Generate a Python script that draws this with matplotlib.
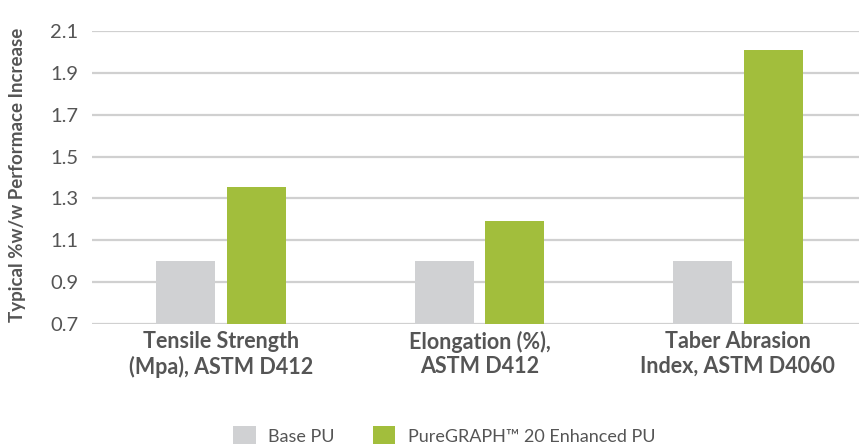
import matplotlib
matplotlib.use("Agg")
import matplotlib.pyplot as plt
import numpy as np

categories = ["Tensile Strength\n(Mpa), ASTM D412", "Elongation (%),\nASTM D412", "Taber Abrasion\nIndex, ASTM D4060"]
base_pu = [1.0, 1.0, 1.0]
enhanced_pu = [1.355, 1.19, 2.01]
series_names = ["Base PU", "PureGRAPH™ 20 Enhanced PU"]
yticks = [0.7, 0.9, 1.1, 1.3, 1.5, 1.7, 1.9, 2.1]

plt.rcParams['font.family'] = ['Lato', 'DejaVu Sans']
text_color = "#555555"
grey = "#d0d1d3"
green = "#a2be3c"

fig = plt.figure(figsize=(8.59, 4.44), dpi=100)
ax = fig.add_axes([92/859, 1-324/444, 775/859, (324-31)/444])

x = np.arange(len(categories))
w = 0.228
off = 0.137
ax.bar(x - off, base_pu, w, color=grey, label=series_names[0], zorder=3)
ax.bar(x + off, enhanced_pu, w, color=green, label=series_names[1], zorder=3)

ax.set_ylim(0.7, 2.1)
ax.set_xlim(-0.5, 2.5)
ax.set_yticks(yticks)
ax.set_yticklabels([f"{v:.1f}" for v in yticks], fontsize=14.5, color=text_color)
ax.set_xticks(x)
ax.set_xticklabels(categories, fontsize=15.5, fontweight='bold', color=text_color, linespacing=1.2)
ax.tick_params(axis='both', length=0)
ax.tick_params(axis='y', pad=10)
ax.tick_params(axis='x', pad=5)
ax.grid(axis='y', color="#d0d0d0", linewidth=1.6, zorder=0)
for s in ax.spines.values():
    s.set_visible(False)
ax.set_ylabel("Typical %w/w Performace Increase", fontsize=13.5, fontweight='bold', color=text_color)
ax.yaxis.set_label_coords(-0.085, 0.51)

handles, labels = ax.get_legend_handles_labels()
leg = fig.legend(handles, labels, loc='lower center', bbox_to_anchor=(0.517, -0.04), ncol=2, frameon=False,
                 fontsize=13, handlelength=1.25, handleheight=1.3, handletextpad=0.7, columnspacing=2.1)
for t in leg.get_texts():
    t.set_color(text_color)

fig.savefig("out.png", dpi=100)
